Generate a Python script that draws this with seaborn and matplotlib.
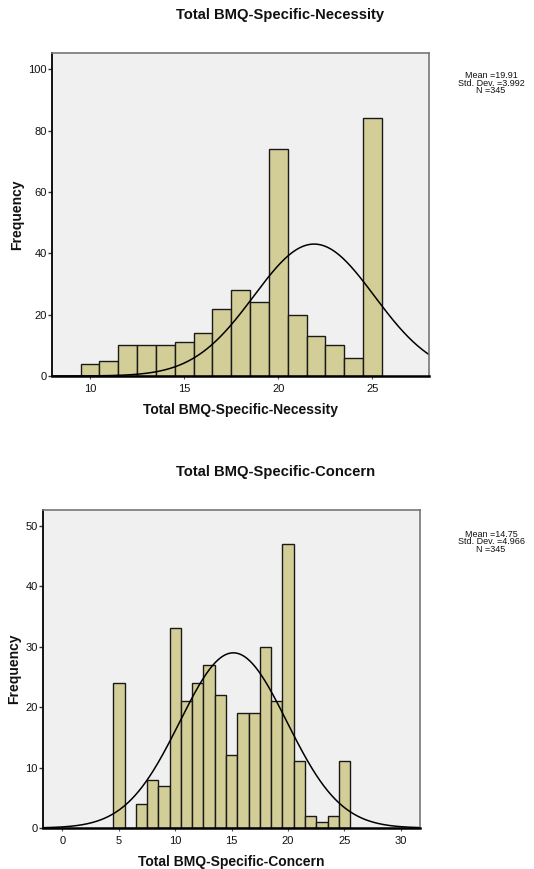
import numpy as np
import pandas as pd
import matplotlib
matplotlib.use("Agg")
import matplotlib.pyplot as plt
import seaborn as sns

# ---- data ----
nec_scores = [10, 11, 12, 13, 14, 15, 16, 17, 18, 19, 20, 21, 22, 23, 24, 25]
nec_counts = [4, 5, 10, 10, 10, 11, 14, 22, 28, 24, 74, 20, 13, 10, 6, 84]
nec_stats = ["Mean =19.91", "Std. Dev. =3.992", "N =345"]
nec_curve_mean, nec_curve_sd, nec_n = 21.9, 3.2, 345

con_scores = [5, 7, 8, 9, 10, 11, 12, 13, 14, 15, 16, 17, 18, 19, 20, 21, 22, 23, 24, 25]
con_counts = [24, 4, 8, 7, 33, 21, 24, 27, 22, 12, 19, 19, 30, 21, 47, 11, 2, 1, 2, 11]
con_stats = ["Mean =14.75", "Std. Dev. =4.966", "N =345"]
con_curve_mean, con_curve_sd, con_n = 15.15, 4.75, 345

nec_xticks = [10, 15, 20, 25]
nec_yticks = [0, 20, 40, 60, 80, 100]
con_xticks = [0, 5, 10, 15, 20, 25, 30]
con_yticks = [0, 10, 20, 30, 40, 50]

sns.set_theme(style="white")
plt.rcParams["font.family"] = ["Liberation Sans", "DejaVu Sans"]

BAR = "#D3CE97"
BG = "#F0F0F0"

fig = plt.figure(figsize=(5.34, 8.69), dpi=100)
W, H = 534, 869


def ax_at(l, t, r, b):
    return fig.add_axes([l / W, 1 - b / H, (r - l) / W, (b - t) / H])


def panel(ax, scores, counts, mu, sd, n, xlim, ylim, xticks, yticks, xlabel):
    ax.set_facecolor(BG)
    df = pd.DataFrame({"score": scores, "count": counts})
    sns.histplot(data=df, x="score", weights="count", discrete=True, ax=ax,
                 color=BAR, edgecolor="#1a1a1a", linewidth=1.0, alpha=1.0)
    xs = np.linspace(xlim[0], xlim[1], 400)
    ys = n / (sd * np.sqrt(2 * np.pi)) * np.exp(-0.5 * ((xs - mu) / sd) ** 2)
    sns.lineplot(x=xs, y=ys, ax=ax, color="black", linewidth=1.1)
    ax.set_xlim(*xlim)
    ax.set_ylim(*ylim)
    ax.set_xticks(xticks)
    ax.set_yticks(yticks)
    ax.tick_params(axis="y", which="both", left=True, length=3, width=1,
                   color="#333333", labelsize=8, pad=1, labelcolor="#111111")
    ax.tick_params(axis="x", bottom=True, length=2.5, width=0.8, color="#555555",
                   labelsize=8, pad=3.5, labelcolor="#111111")
    ax.set_xlabel(xlabel, fontsize=10, fontweight="bold", labelpad=6, color="#111111")
    ax.set_ylabel("Frequency", fontsize=10, fontweight="bold", labelpad=3, color="#111111")
    for s in ["top", "right"]:
        ax.spines[s].set_color("#777777")
        ax.spines[s].set_linewidth(1.2)
    for s in ["left", "bottom"]:
        ax.spines[s].set_color("black")
        ax.spines[s].set_linewidth(1.3)
    ax.spines["bottom"].set_linewidth(1.8)


ax1 = ax_at(52.3, 53.3, 429, 376)
panel(ax1, nec_scores, nec_counts, nec_curve_mean, nec_curve_sd, nec_n,
      (8, 28), (0, 105.2), nec_xticks, nec_yticks, "Total BMQ-Specific-Necessity")

ax2 = ax_at(43.3, 510, 420, 828)
panel(ax2, con_scores, con_counts, con_curve_mean, con_curve_sd, con_n,
      (-1.7, 31.7), (0, 52.6), con_xticks, con_yticks, "Total BMQ-Specific-Concern")

fig.text(280 / W, 1 - 15 / H, "Total BMQ-Specific-Necessity", ha="center", va="center",
         fontsize=10.6, fontweight="bold", color="#111111")
fig.text(276 / W, 1 - 472 / H, "Total BMQ-Specific-Concern", ha="center", va="center",
         fontsize=10.6, fontweight="bold", color="#111111")

fig.text(491 / W, 1 - 83 / H, "\n".join(nec_stats), ha="center", va="center",
         fontsize=6.5, linespacing=0.85, color="#111111")
fig.text(491 / W, 1 - 542 / H, "\n".join(con_stats), ha="center", va="center",
         fontsize=6.5, linespacing=0.85, color="#111111")

fig.savefig("out.png", dpi=100)
